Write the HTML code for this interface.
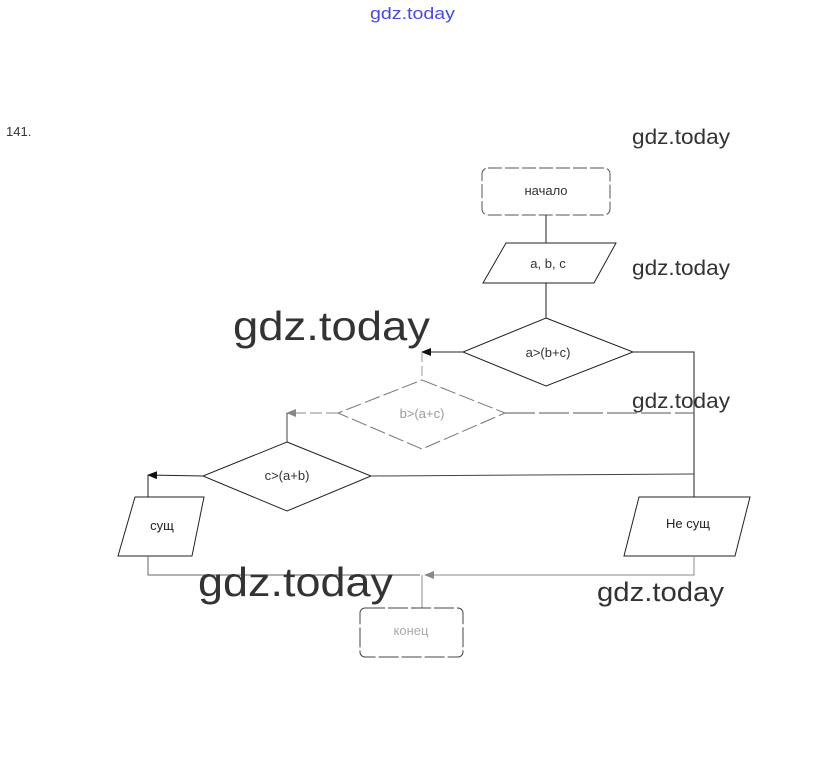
<!DOCTYPE html>
<html><head><meta charset="utf-8"><style>
html,body{margin:0;padding:0;background:#fff;}
svg{display:block;}
text{font-family:"Liberation Sans",sans-serif;}
</style></head><body>
<svg width="823" height="759" viewBox="0 0 823 759" xmlns="http://www.w3.org/2000/svg">
<defs>
<marker id="ar" markerWidth="10" markerHeight="8" refX="9" refY="4" orient="auto" markerUnits="userSpaceOnUse">
<path d="M0,0 L10,4 L0,8 z" fill="#111"/></marker>
<marker id="arg" markerWidth="10" markerHeight="8" refX="9" refY="4" orient="auto" markerUnits="userSpaceOnUse">
<path d="M0,0 L10,4 L0,8 z" fill="#888"/></marker>
</defs>
<text x="370" y="19" font-size="17" fill="#4a4adf" textLength="85" lengthAdjust="spacingAndGlyphs">gdz.today</text>
<text x="6" y="136" font-size="13" fill="#333">141.</text>

<g fill="none" stroke="#222" stroke-width="1">
<rect x="482" y="168" width="128" height="47" rx="6" stroke="#555" stroke-dasharray="14 3"/>
<line x1="546" y1="215" x2="546" y2="243"/>
<polygon points="506,243 616,243 594,283 483,283"/>
<line x1="546" y1="283" x2="546" y2="318"/>
<polygon points="546,318 633,352 546,386 463,352"/>
<polyline points="633,352 694,352 694,497"/>
<polyline points="463,352 422,352" marker-end="url(#ar)"/>
<line x1="422" y1="352" x2="422" y2="380" stroke="#999" stroke-dasharray="10 4"/>
<polygon points="422,380 505,413 422,449 338,413" stroke="#777" stroke-dasharray="16 4"/>
<line x1="505" y1="413" x2="694" y2="413" stroke="#555" stroke-dasharray="30 4"/>
<polyline points="338,413 287,413" stroke="#888" stroke-dasharray="12 4" marker-end="url(#arg)"/>
<line x1="287" y1="413" x2="287" y2="442" stroke="#444"/>
<polygon points="287,442 371,476 287,511 203,476"/>
<line x1="371" y1="476" x2="694" y2="474" stroke="#444"/>
<polyline points="203,476 148,475" marker-end="url(#ar)"/>
<line x1="148" y1="475" x2="148" y2="497"/>
<polygon points="135,497 204,497 192,556 118,556"/>
<polygon points="639,497 750,497 735,556 624,556"/>
<polyline points="148,556 148,575 420,575" stroke="#666"/>
<polyline points="694,556 694,575 425,575" stroke="#888" marker-end="url(#arg)"/>
<line x1="422" y1="575" x2="422" y2="608" stroke="#888"/>
<rect x="360" y="608" width="103" height="49" rx="5" stroke="#444" stroke-dasharray="20 3"/>
</g>

<g font-size="13" fill="#333" text-anchor="middle">
<text x="546" y="195">начало</text>
<text x="548" y="268">a, b, c</text>
<text x="548" y="357">a&gt;(b+c)</text>
<text x="422" y="418" fill="#999">b&gt;(a+c)</text>
<text x="287" y="480">c&gt;(a+b)</text>
<text x="162" y="530" fill="#222">сущ</text>
<text x="688" y="528" fill="#222">Не сущ</text>
<text x="411" y="635" fill="#aaa">конец</text>
</g>

<g fill="#333" lengthAdjust="spacingAndGlyphs">
<text x="632" y="144" font-size="21" textLength="98" lengthAdjust="spacingAndGlyphs">gdz.today</text>
<text x="632" y="275" font-size="21" textLength="98" lengthAdjust="spacingAndGlyphs">gdz.today</text>
<text x="233" y="340" font-size="41" textLength="197" lengthAdjust="spacingAndGlyphs">gdz.today</text>
<text x="632" y="408" font-size="21" textLength="98" lengthAdjust="spacingAndGlyphs">gdz.today</text>
<text x="198" y="596" font-size="41" textLength="195" lengthAdjust="spacingAndGlyphs">gdz.today</text>
<text x="597" y="601" font-size="27" textLength="127" lengthAdjust="spacingAndGlyphs">gdz.today</text>
</g>
</svg>
</body></html>
